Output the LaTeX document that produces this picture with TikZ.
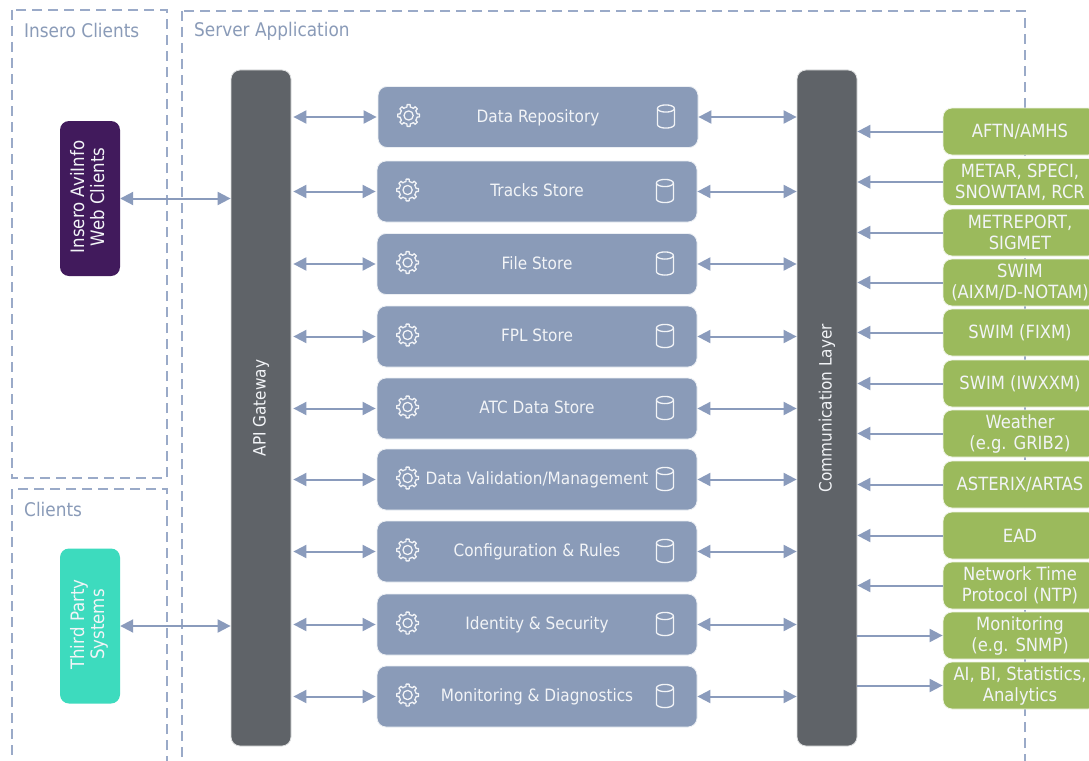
\documentclass[tikz,border=0pt]{standalone}
\usepackage{fontspec}
\setmainfont{DejaVu Sans}[FakeStretch=0.9]
\usetikzlibrary{arrows.meta}
\definecolor{slateblue}{HTML}{8A9BB8}
\definecolor{dashblue}{HTML}{9AAAC8}
\definecolor{arrowblue}{HTML}{8A9BBC}
\definecolor{gatewaygrey}{HTML}{5F6368}
\definecolor{aviinfopurple}{HTML}{411A5C}
\definecolor{thirdteal}{HTML}{3DDBBE}
\definecolor{feedgreen}{HTML}{9BBA5C}
\definecolor{softwhite}{HTML}{F2F4F7}
\tikzset{
  zonebox/.style={draw=dashblue, line width=1.2pt, dash pattern=on 10pt off 6pt},
  zonetitle/.style={anchor=west, inner sep=0pt, text=slateblue, font=\fontsize{18.8}{22}\selectfont},
  storebox/.style={draw=white!85!slateblue, line width=0.8pt, fill=slateblue, rounded corners=9pt, minimum width=320pt, minimum height=61pt, inner sep=0pt, text height=13pt, text depth=3pt, text=softwhite, font=\fontsize{17}{21}\selectfont},
  barbox/.style={fill=gatewaygrey, draw=white!80!gatewaygrey, line width=0.8pt, rounded corners=9pt, minimum width=60pt, minimum height=676pt, inner sep=0pt, text=softwhite, font=\fontsize{17}{21}\selectfont},
  clientbox/.style={rounded corners=9pt, minimum width=60pt, minimum height=155pt, inner sep=0pt, text=softwhite, align=center, font=\fontsize{18.5}{21}\selectfont},
  feedbox/.style={draw=white!85!feedgreen, line width=0.8pt, fill=feedgreen, rounded corners=9pt, minimum width=154pt, minimum height=47pt, inner sep=0pt, text=softwhite, align=center, font=\fontsize{18.2}{21}\selectfont},
  link/.style={arrowblue, line width=2pt, {Triangle[length=13pt,width=13pt]}-{Triangle[length=13pt,width=13pt]}},
  feedin/.style={arrowblue, line width=2pt, {Triangle[length=13pt,width=13pt]}-},
  feedout/.style={arrowblue, line width=2pt, -{Triangle[length=13pt,width=13pt]}},
  iconline/.style={draw=softwhite, line width=1.3pt, line join=round},
  gearicon/.pic={
    \foreach \a in {0,45,...,315}
      \draw[iconline] (\a-22.5:8.6) -- (\a-11:8.6) -- (\a-8:11) -- (\a+8:11) -- (\a+11:8.6) -- (\a+22.5:8.6);
    \draw[iconline] (0,0) circle (4.6);
  },
  drumicon/.pic={
    \draw[iconline] (0,0) ellipse (8.5 and 3.6);
    \draw[iconline] (-8.5,0) -- (-8.5,16) arc (180:0:8.5 and 3.6) -- (8.5,0);
  },
}
\begin{document}
\begin{tikzpicture}[x=1pt,y=-1pt]
  \clip (0,0) rectangle (1089,760);
  \fill[white] (0,0) rectangle (1089,760);

  % zones
  \draw[zonebox] (12,10) rectangle (167,478);
  \draw[zonebox] (12,489) rectangle (167,790);
  \draw[zonebox] (182,11) rectangle (1025,790);
  \node[zonetitle] (insero) at (24,30) {Insero Clients};
  \node[zonetitle] (clients) at (24,509) {Clients};
  \node[zonetitle] (server) at (194,31.5) {Server Application};

  % clients
  \node[clientbox, fill=aviinfopurple] (aviinfo) at (90,198.5) {\rotatebox{90}{\hspace{3pt}\begin{tabular}{@{}c@{}}Insero AviInfo\\[-1pt] Web Clients\end{tabular}}};
  \node[clientbox, fill=thirdteal] (thirdparty) at (90,626) {\rotatebox{90}{\hspace{3pt}\begin{tabular}{@{}c@{}}Third Party\\[-1pt] Systems\end{tabular}}};

  % bars
  \node[barbox] (gateway) at (261,408) {\rotatebox{90}{API Gateway}};
  \node[barbox] (commlayer) at (827,408) {\rotatebox{90}{Communication Layer}};

  % stores
  \node[storebox] (datarepo) at (538,117) {Data Repository};
  \node[storebox] (tracks) at (537,191.5) {Tracks Store};
  \node[storebox] (filestore) at (537,264) {File Store};
  \node[storebox] (fplstore) at (537,336.5) {FPL Store};
  \node[storebox] (atcstore) at (537,408.5) {ATC Data Store};
  \node[storebox] (validation) at (537,479.5) {Data Validation/Management};
  \node[storebox] (config) at (537,551.5) {Configuration \& Rules};
  \node[storebox] (identity) at (537,624.5) {Identity \& Security};
  \node[storebox] (monitoring) at (537,696.5) {Monitoring \& Diagnostics};

  \foreach \b in {datarepo,tracks,filestore,fplstore,atcstore,validation,config,identity,monitoring} {
    \pic at ([xshift=31pt,yshift=1.5pt]\b.west) {gearicon};
    \pic at ([xshift=-32.5pt,yshift=8.5pt]\b.east) {drumicon};
    \draw[link, shorten <=1pt, shorten >=2pt] (\b.west) -- (\b.west -| gateway.east);
    \draw[link] (\b.east) -- (\b.east -| commlayer.west);
  }

  % feeds
  \node[feedbox] (aftn) at (1020,131.5) {AFTN/AMHS};
  \node[feedbox] (metar) at (1020,182) {METAR, SPECI,\\SNOWTAM, RCR};
  \node[feedbox] (metreport) at (1020,232.5) {METREPORT,\\SIGMET};
  \node[feedbox] (aixm) at (1020,282.5) {SWIM\\(AIXM/D-NOTAM)};
  \node[feedbox] (fixm) at (1020,332.5) {SWIM (FIXM)};
  \node[feedbox] (iwxxm) at (1020,383.5) {SWIM (IWXXM)};
  \node[feedbox] (weather) at (1020,433.5) {Weather\\(e.g. GRIB2)};
  \node[feedbox] (asterix) at (1020,484.5) {ASTERIX/ARTAS};
  \node[feedbox] (ead) at (1020,535.5) {EAD};
  \node[feedbox] (ntp) at (1020,585.5) {Network Time\\Protocol (NTP)};
  \node[feedbox] (snmp) at (1020,635.5) {Monitoring\\(e.g. SNMP)};
  \node[feedbox] (analytics) at (1020,685.5) {AI, BI, Statistics,\\Analytics};

  \foreach \f in {aftn,metar,metreport,aixm,fixm,iwxxm,weather,asterix,ead,ntp}
    \draw[feedin] (\f.west -| commlayer.east) -- (\f.west);
  \foreach \f in {snmp,analytics}
    \draw[feedout] (\f.west -| commlayer.east) -- (\f.west);

  % client links
  \draw[link] (aviinfo.east) -- (aviinfo.east -| gateway.west);
  \draw[link] (thirdparty.east) -- (thirdparty.east -| gateway.west);
\end{tikzpicture}
\end{document}
